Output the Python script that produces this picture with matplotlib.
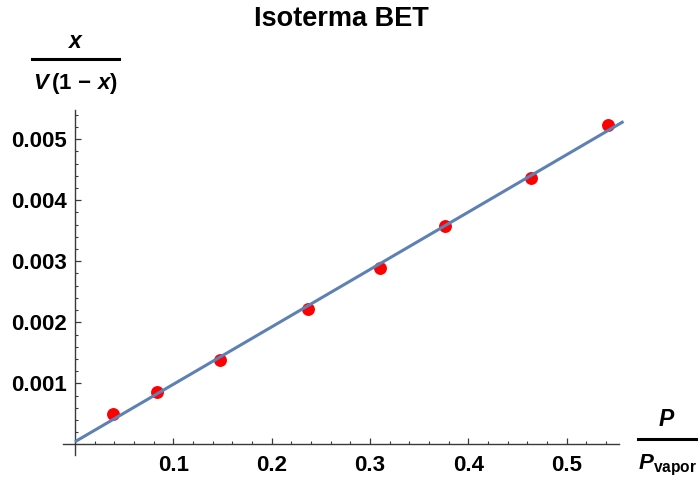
import numpy as np
import matplotlib
matplotlib.use("Agg")
import matplotlib.pyplot as plt
from matplotlib.lines import Line2D
from matplotlib.ticker import MultipleLocator, FixedLocator, FixedFormatter

# ---- data ----
p_rel = [0.0387, 0.0831, 0.1475, 0.2373, 0.3103, 0.3764, 0.4636, 0.5425]
bet_y = [0.000497, 0.000857, 0.001384, 0.002223, 0.00289, 0.003584, 0.00437, 0.005234]
fit_intercept = 0.0000426
fit_slope = 0.009407
fit_x_range = [0.0, 0.558]
x_ticks = [0.1, 0.2, 0.3, 0.4, 0.5]
x_tick_labels = ["0.1", "0.2", "0.3", "0.4", "0.5"]
y_ticks = [0.001, 0.002, 0.003, 0.004, 0.005]
y_tick_labels = ["0.001", "0.002", "0.003", "0.004", "0.005"]
title = "Isoterma BET"

plt.rcParams['font.family'] = ['Liberation Sans', 'DejaVu Sans']
plt.rcParams['mathtext.fontset'] = 'custom'
plt.rcParams['mathtext.rm'] = 'Liberation Sans:bold'
plt.rcParams['mathtext.bf'] = 'Liberation Sans:bold'
plt.rcParams['mathtext.it'] = 'Liberation Sans:bold:italic'
plt.rcParams['mathtext.bfit'] = 'Liberation Sans:bold:italic'

W, H = 698, 479
fig = plt.figure(figsize=(W / 100, H / 100), dpi=100)

# pixel geometry of axes box
px_left, px_right = 63.2, 618.6
px_top, px_bottom = 110.0, 455.3
ax = fig.add_axes([px_left / W, (H - px_bottom) / H,
                   (px_right - px_left) / W, (px_bottom - px_top) / H])
ax.set_xlim(-0.012, 0.553)
ax.set_ylim(-0.00018, 0.00548)

axis_color = '#3a3a3a'
for s in ['top', 'right']:
    ax.spines[s].set_visible(False)
ax.spines['left'].set_position(('data', 0))
ax.spines['bottom'].set_position(('data', 0))
ax.spines['left'].set_color(axis_color)
ax.spines['bottom'].set_color(axis_color)
ax.spines['left'].set_linewidth(1.0)
ax.spines['bottom'].set_linewidth(1.0)

ax.xaxis.set_major_locator(FixedLocator(x_ticks))
ax.xaxis.set_major_formatter(FixedFormatter(x_tick_labels))
ax.yaxis.set_major_locator(FixedLocator(y_ticks))
ax.yaxis.set_major_formatter(FixedFormatter(y_tick_labels))
ax.xaxis.set_minor_locator(MultipleLocator(0.02))
ax.yaxis.set_minor_locator(MultipleLocator(0.0002))

ax.tick_params(axis='both', which='major', direction='in', length=4.2, width=0.9,
               color=axis_color, labelsize=16)
ax.tick_params(axis='both', which='minor', direction='in', length=2.4, width=0.8,
               color=axis_color)
ax.tick_params(axis='x', which='major', pad=7.5)
ax.tick_params(axis='y', which='major', pad=6)
for lab in ax.get_xticklabels() + ax.get_yticklabels():
    lab.set_fontweight('bold')

# fit line
fx = np.array(fit_x_range)
ax.plot(fx, fit_intercept + fit_slope * fx, color='#5E81B5', lw=2.2,
        solid_capstyle='butt', clip_on=False, zorder=3)
# data points
ax.plot(p_rel, bet_y, 'o', color='#FF0000', ms=9.3, mec='none', zorder=2, clip_on=False)

# title
fig.text(341 / W, 1 - 19 / H, title, ha='center', va='center',
         fontsize=19.5, fontweight='bold')

# y-axis label: fraction x / V(1 - x)
fig.text(75.5 / W, 1 - 42 / H, r'$\mathbfit{x}$', ha='center', va='center', fontsize=16.5)
fig.add_artist(Line2D([31.7 / W, 119 / W], [1 - 59 / H, 1 - 59 / H],
                      transform=fig.transFigure, color='black', lw=2.2))
fig.text(75.5 / W, 1 - 84 / H,
         r'$\mathbfit{V}\,\mathbf{(1}\ \mathbf{-}\ \mathbfit{x}\mathbf{)}$',
         ha='center', va='center', fontsize=16)

# x-axis label: fraction P / P_vapor
fig.text(667 / W, 1 - 420 / H, r'$\mathbfit{P}$', ha='center', va='center', fontsize=16.5)
fig.add_artist(Line2D([638 / W, 698 / W], [1 - 439 / H, 1 - 439 / H],
                      transform=fig.transFigure, color='black', lw=2.2))
fig.text(638 / W, 1 - 465 / H, r'$\mathbfit{P}_{\mathbf{vapor}}$',
         ha='left', va='center', fontsize=16)

fig.savefig('out.png', dpi=100)
